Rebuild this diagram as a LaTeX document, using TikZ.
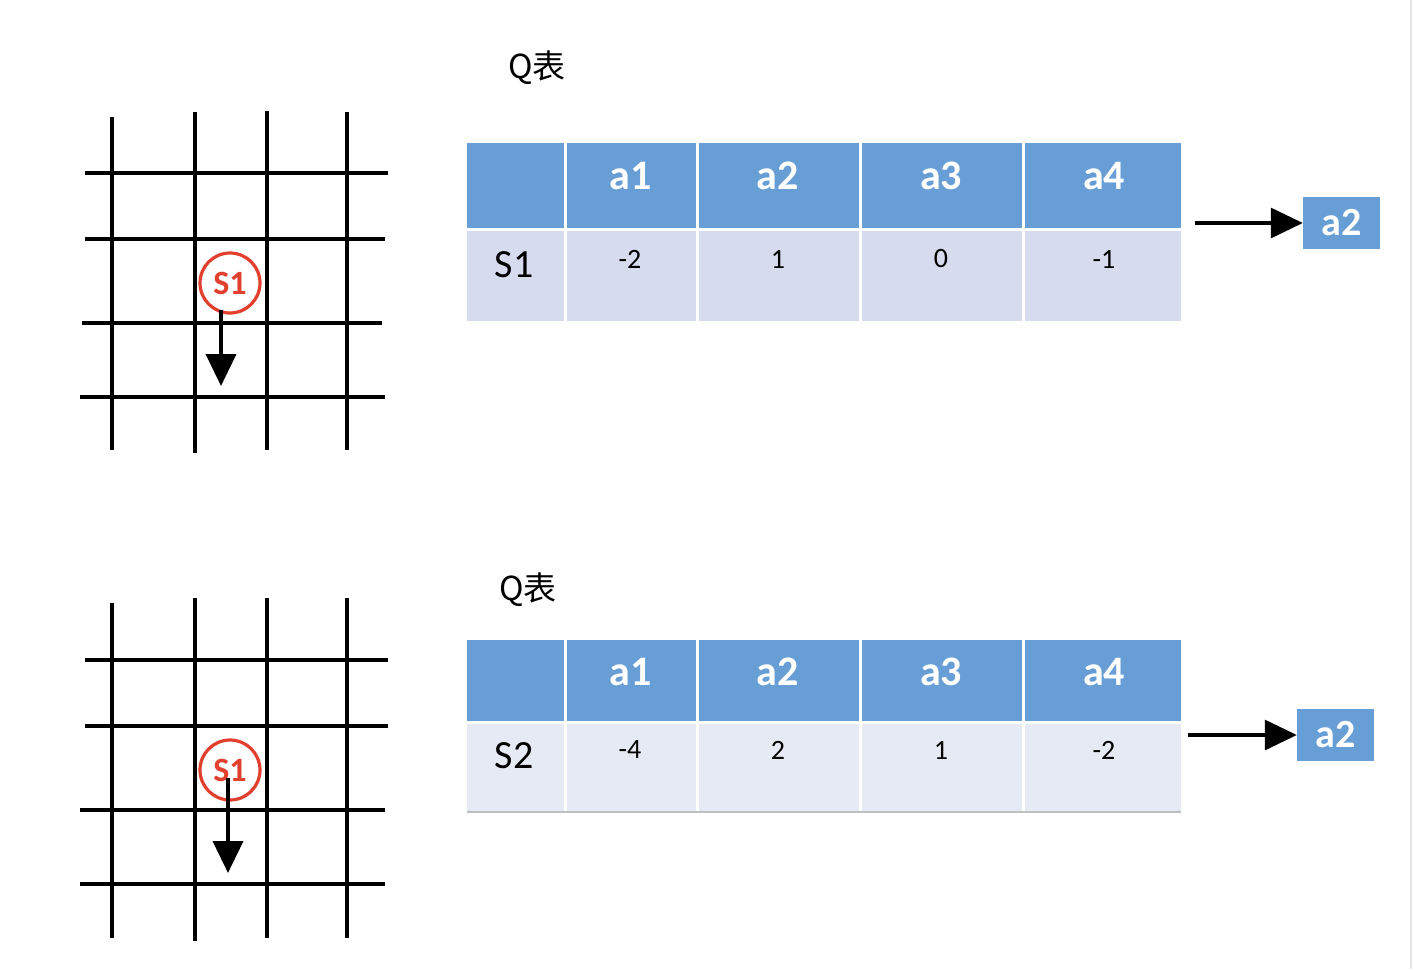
\documentclass[tikz,border=0pt]{standalone}
\usepackage{fontspec}
\setmainfont{Carlito}
\newfontfamily\cjk{Noto Sans CJK SC}
\usetikzlibrary{arrows.meta}
\definecolor{hdr}{RGB}{104,158,214}
\definecolor{rowa}{RGB}{214,220,238}
\definecolor{rowb}{RGB}{230,234,245}
\definecolor{redc}{RGB}{226,64,46}
\tikzset{
  gridline/.style={line width=3.6pt, black},
  cell/.style={draw=white, line width=3pt, inner sep=0pt, anchor=center},
  htext/.style={font=\bfseries\fontsize{42}{42}\selectfont, text=white, inner sep=0pt},
  stext/.style={font=\fontsize{40}{40}\selectfont, inner sep=0pt},
  vtext/.style={font=\fontsize{28}{28}\selectfont, inner sep=0pt},
  qtitle/.style={font=\cjk\fontsize{33}{33}\selectfont, inner sep=0pt},
  stcircle/.style={circle, draw=redc, line width=3.2pt, minimum size=60pt, inner sep=0pt, text=redc, font=\bfseries\fontsize{34}{34}\selectfont},
  downarrow/.style={line width=3.8pt, -{Triangle[length=32pt, width=30pt]}},
  sidearrow/.style={line width=3.2pt, -{Triangle[length=32pt, width=30pt]}},
  resbox/.style={fill=hdr, minimum width=77pt, minimum height=52pt, inner sep=0pt, text=white, font=\bfseries\fontsize{40}{40}\selectfont}
}
\begin{document}
\begin{tikzpicture}[x=1pt, y=-1pt]
\useasboundingbox (0,0) rectangle (1413,969);
\fill[white] (0,0) rectangle (1413,969);
\draw[line width=2pt, black!10] (1411,0) -- (1411,969);

% ---------- grid 1 ----------
\draw[gridline] (112,117) -- (112,450);
\draw[gridline] (195,112) -- (195,453);
\draw[gridline] (267,111) -- (267,450);
\draw[gridline] (347,112) -- (347,450);
\draw[gridline] (85,173) -- (388,173);
\draw[gridline] (85,239) -- (385,239);
\draw[gridline] (82,323) -- (382,323);
\draw[gridline] (80,397) -- (385,397);
\node[stcircle] (c1) at (230,283) {S1};
\coordinate (g1s) at (221,310);
\coordinate (g1e) at (221,386);
\draw[downarrow] (g1s) -- (g1e);

% ---------- grid 2 ----------
\draw[gridline] (112,603) -- (112,938);
\draw[gridline] (195,598) -- (195,941);
\draw[gridline] (267,598) -- (267,938);
\draw[gridline] (347,598) -- (347,938);
\draw[gridline] (85,660) -- (388,660);
\draw[gridline] (85,726) -- (388,726);
\draw[gridline] (80,810) -- (385,810);
\draw[gridline] (80,884) -- (385,884);
\node[stcircle] (c2) at (230,770) {S1};
\coordinate (g2s) at (228,778);
\coordinate (g2e) at (228,873);
\draw[downarrow] (g2s) -- (g2e);

% ---------- table 1 ----------
\node[qtitle] (q1) at (537,68) {Q表};
\foreach \i/\l/\r in {0/465.5/565,1/565/697,2/697/860,3/860/1023,4/1023/1182.5}{
  \node[cell, fill=hdr, minimum width={(\r-\l)*1pt}, minimum height=90pt] (ha\i) at ({(\l+\r)/2},186) {};
  \node[cell, fill=rowa, minimum width={(\r-\l)*1pt}, minimum height=93pt] (ra\i) at ({(\l+\r)/2},275.5) {};
}
\node[htext] (ta1) at (631,176) {a1};
\node[htext] (ta2) at (778,176) {a2};
\node[htext] (ta3) at (941,176) {a3};
\node[htext] (ta4) at (1104,176) {a4};
\node[stext] (ts1) at (514,265) {S1};
\node[vtext] (va1) at (630,259) {-2};
\node[vtext] (va2) at (778,259) {1};
\node[vtext] (va3) at (941,259) {0};
\node[vtext] (va4) at (1104,259) {-1};
\node[resbox] (res1) at (1341.5,223) {a2};
\coordinate (s1s) at (1195,223);
\draw[sidearrow] (s1s) -- (res1.west);

% ---------- table 2 ----------
\node[qtitle] (q2) at (528,590) {Q表};
\foreach \i/\l/\r in {0/465.5/565,1/565/697,2/697/860,3/860/1023,4/1023/1182.5}{
  \node[cell, fill=hdr, minimum width={(\r-\l)*1pt}, minimum height=86pt] (hb\i) at ({(\l+\r)/2},681) {};
  \node[cell, fill=rowb, minimum width={(\r-\l)*1pt}, minimum height=90pt] (rb\i) at ({(\l+\r)/2},767) {};
}
\draw[line width=1.5pt, black!25] (467,812) -- (1181,812);
\node[htext] (tb1) at (631,672) {a1};
\node[htext] (tb2) at (778,672) {a2};
\node[htext] (tb3) at (941,672) {a3};
\node[htext] (tb4) at (1104,672) {a4};
\node[stext] (ts2) at (514,756) {S2};
\node[vtext] (vb1) at (630,750) {-4};
\node[vtext] (vb2) at (778,750) {2};
\node[vtext] (vb3) at (941,750) {1};
\node[vtext] (vb4) at (1104,750) {-2};
\node[resbox] (res2) at (1335.5,735) {a2};
\coordinate (s2s) at (1188,735);
\draw[sidearrow] (s2s) -- (res2.west);
\end{tikzpicture}
\end{document}
